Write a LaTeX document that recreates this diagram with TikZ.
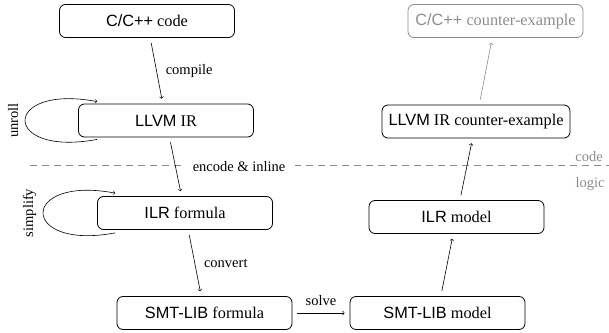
\documentclass[tikz,border=0pt]{standalone}
\usepackage{fontspec}
\setmainfont{Liberation Serif}
\setsansfont{Liberation Sans}
\newcommand{\tool}[1]{\textsf{#1}}
\tikzset{
  stage/.style={draw, rounded corners=6bp, minimum width=175bp, minimum height=33bp,
    inner xsep=6.5bp, font=\fontsize{16.3bp}{19bp}\selectfont},
  ghost/.style={draw=black!45, text=black!45},
  flow/.style={->, line width=0.6bp, shorten <=5bp, shorten >=5bp},
  loopflow/.style={->, line width=0.6bp},
  edgelabel/.style={font=\fontsize{14.5bp}{17bp}\selectfont, inner sep=3bp},
  sidelabel/.style={edgelabel, text=black!45},
}
\begin{document}
\begin{tikzpicture}[>=to,line join=bevel]
  \pgfsetlinewidth{0.8bp}
  \useasboundingbox (0bp,0bp) rectangle (609bp,333bp);
%%
  % Divider: code / logic
  \draw [black!45, dash pattern=on 7bp off 5bp] (30bp,168bp) -- (609bp,168bp);
  \node [sidelabel] (codeside) at (589bp,176bp) {code};
  \node [sidelabel] (logicside) at (590bp,149bp) {logic};
%%
  % Node: C/C++ code
  \node [stage] (ccode) at (147bp,312bp) {\tool{C/C++} code};
  % Node: LLVM IR
  \node [stage] (llvm) at (166bp,212.5bp) {\tool{LLVM} IR};
  % Node: ILR formula
  \node [stage] (ilr) at (185bp,120bp) {\tool{ILR} formula};
  % Node: SMT-LIB formula
  \node [stage] (smtf) at (204.5bp,20bp) {\tool{SMT-LIB} formula};
  % Node: SMT-LIB model
  \node [stage] (smtm) at (437.5bp,20bp) {\tool{SMT-LIB} model};
  % Node: ILR model
  \node [stage] (ilrm) at (456.5bp,116bp) {\tool{ILR} model};
  % Node: LLVM IR counter-example
  \node [stage] (llvmce) at (476bp,211.5bp) {\tool{LLVM} IR counter-example};
  % Node: C/C++ counter-example
  \node [stage,ghost] (cce) at (495.5bp,312bp) {\tool{C/C++} counter-example};
%%
  % Edge: ccode -> llvm
  \draw [flow] (ccode) -- node [edgelabel, right=6bp] {compile} (llvm);
  % Edge: llvm -> llvm
  \draw [loopflow] ([xshift=19bp,yshift=-2bp]llvm.south west)
    .. controls +(-96bp,-18bp) and +(-96bp,18bp) .. ([xshift=19bp,yshift=2bp]llvm.north west)
    node [edgelabel, pos=0.5, rotate=90, anchor=south, inner ysep=6.5bp] {unroll};
  % Edge: llvm -> ilr
  \draw [flow] (llvm) -- node [edgelabel, right=7bp, fill=white, inner xsep=10bp] {encode \& inline} (ilr);
  % Edge: ilr -> ilr
  \draw [loopflow] ([xshift=18bp,yshift=-3bp]ilr.south west)
    .. controls +(-96bp,-18bp) and +(-96bp,18bp) .. ([xshift=18bp,yshift=3bp]ilr.north west)
    node [edgelabel, pos=0.5, rotate=90, anchor=south, inner ysep=6.5bp] {simplify};
  % Edge: ilr -> smtf
  \draw [flow] (ilr) -- node [edgelabel, right=6bp] {convert} (smtf);
  % Edge: smtf -> smtm
  \draw [flow] (smtf) -- node [edgelabel, above=4.5bp] {solve} (smtm);
  % Edge: smtm -> ilrm
  \draw [flow] (smtm) -- (ilrm);
  % Edge: ilrm -> llvmce
  \draw [flow] (ilrm) -- (llvmce);
  % Edge: llvmce -> cce
  \draw [flow, black!45] (llvmce) -- (cce);
%
\end{tikzpicture}
\end{document}
